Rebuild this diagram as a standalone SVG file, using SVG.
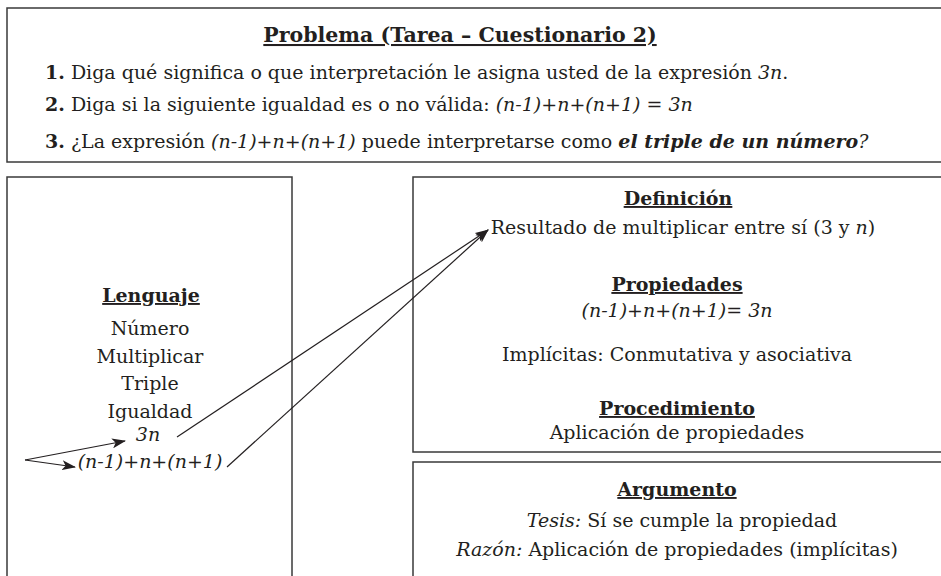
<svg xmlns="http://www.w3.org/2000/svg" width="941" height="576" viewBox="0 0 941 576">
<style>
text{font-family:"DejaVu Serif","Liberation Serif",serif;font-size:19px;fill:#231f20}
.c{text-anchor:middle}
.h{font-weight:bold;text-decoration:underline}
.t{font-size:20.5px}
.b{font-weight:bold}
.i{font-style:italic}
.box{fill:#fff;stroke:#3a3a3a;stroke-width:1.5}
.con{stroke:#231f20;stroke-width:1.2;fill:none;marker-end:url(#ah)}
</style>
<defs>
<marker id="ah" markerWidth="14" markerHeight="10" refX="13" refY="5" orient="auto" markerUnits="userSpaceOnUse">
<path d="M0,0 L14,5 L0,10 L3.5,5 Z" fill="#231f20"/>
</marker>
</defs>
<rect width="941" height="576" fill="#fff"/>
<g id="problema">
<rect class="box" x="7" y="8" width="945" height="154"/>
<text class="c h t" x="460" y="42">Problema (Tarea – Cuestionario 2)</text>
<text x="45" y="79"><tspan class="b">1.</tspan> Diga qué significa o que interpretación le asigna usted de la expresión  <tspan class="i">3n</tspan>.</text>
<text x="45" y="111"><tspan class="b">2.</tspan>  Diga si la siguiente igualdad  es o no válida: <tspan class="i">(n-1)+n+(n+1) = 3n</tspan></text>
<text x="45" y="148"><tspan class="b">3.</tspan> ¿La expresión  <tspan class="i">(n-1)+n+(n+1)</tspan> puede interpretarse como <tspan class="b i">el triple de un número</tspan><tspan class="i">?</tspan></text>
</g>
<g id="lenguaje">
<rect class="box" x="7" y="177" width="285" height="410"/>
<text class="c h" x="151" y="302">Lenguaje </text>
<text class="c" x="150" y="335">Número</text>
<text class="c" x="150" y="363">Multiplicar</text>
<text class="c" x="150" y="390">Triple</text>
<text class="c" x="150" y="418">Igualdad</text>
<text class="c i" x="148" y="441">3n</text>
<text class="c i" x="150" y="468">(n-1)+n+(n+1)</text>
</g>
<g id="definicion">
<rect class="box" x="413" y="177" width="540" height="275"/>
<text class="c h" x="678" y="205">Definición </text>
<text class="c" x="683" y="234">Resultado de multiplicar entre sí (3 y <tspan class="i">n</tspan>)</text>
<text class="c h" x="677" y="291">Propiedades</text>
<text class="c i" x="677" y="317">(n-1)+n+(n+1)= 3n</text>
<text class="c" x="677" y="361">Implícitas: Conmutativa y asociativa</text>
<text class="c h" x="677" y="415">Procedimiento</text>
<text class="c" x="677" y="439">Aplicación de propiedades</text>
</g>
<g id="argumento">
<rect class="box" x="413" y="462" width="540" height="130"/>
<text class="c h" x="677" y="496">Argumento</text>
<text class="c" x="682" y="527"><tspan class="i">Tesis:</tspan> Sí se cumple la propiedad</text>
<text class="c" x="677" y="556"><tspan class="i">Razón:</tspan> Aplicación de propiedades (implícitas)</text>
</g>
<g id="connectors">
<line class="con" x1="25" y1="460" x2="125" y2="441"/>
<line class="con" x1="25" y1="460" x2="75" y2="467"/>
<line class="con" x1="177" y1="437" x2="488" y2="230"/>
<line class="con" x1="227" y1="467" x2="488" y2="230"/>
</g>
</svg>
